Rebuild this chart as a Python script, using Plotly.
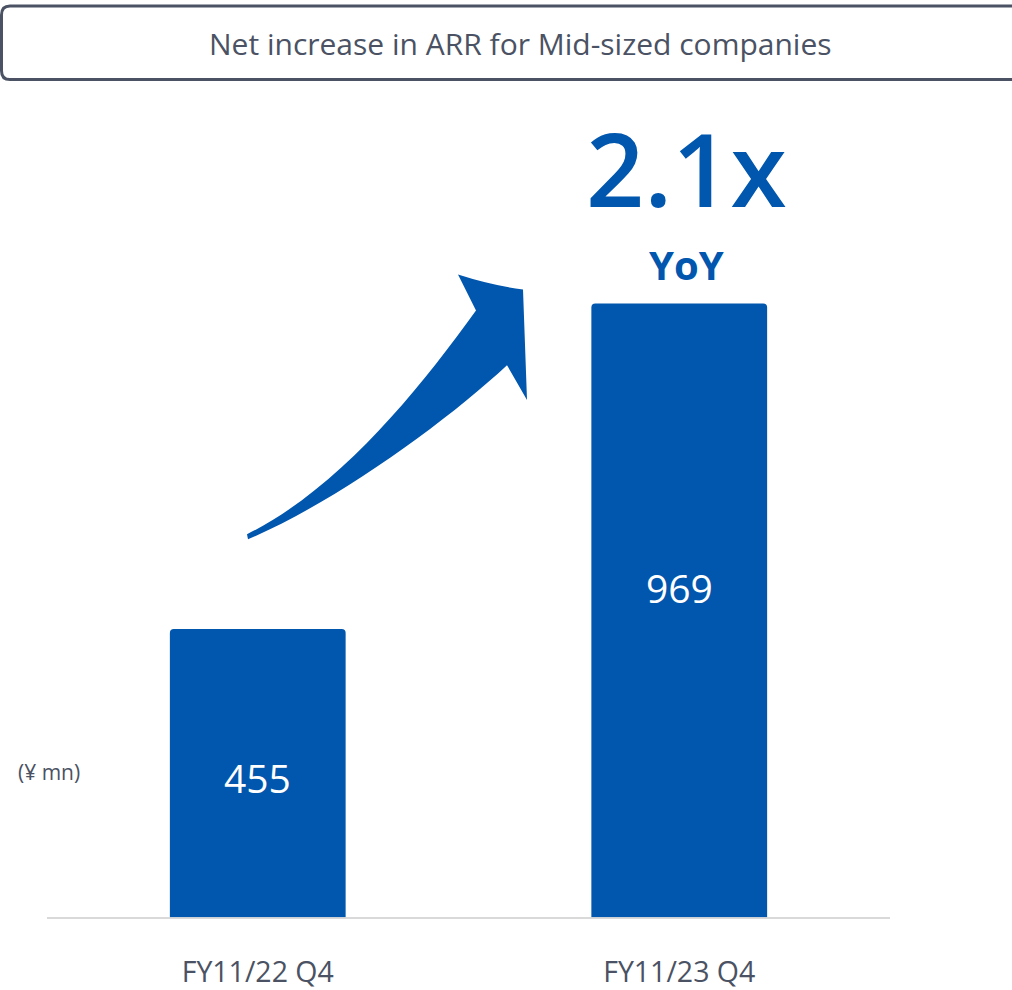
import plotly.graph_objects as go

# Figure canvas (pixels)
W, H = 1012, 990

# Data
categories = ["FY11/22 Q4", "FY11/23 Q4"]
net_increase = [455, 969]          # ¥ mn
label_heights = [220, 520]         # where the value labels sit inside each bar (¥ mn scale)
growth_label = "2.1x"
growth_sub = "YoY"
title_text = "Net increase in ARR for Mid-sized companies"
unit_text = "(¥ mn)"

BLUE = "#0156ae"
SLATE = "#4a5263"
FONT = "Open Sans"

# plot-area edges in pixels
PLOT_LEFT, PLOT_RIGHT = 47, 890
PLOT_TOP, PLOT_BOTTOM = 100, 922
Y_MAX = 969 * (PLOT_BOTTOM - PLOT_TOP) / (PLOT_BOTTOM - 305)


def px(x):
    return x / W


def py(y):
    return 1 - y / H


fig = go.Figure()
fig.add_trace(go.Bar(
    x=categories,
    y=net_increase,
    width=0.417,
    marker=dict(color=BLUE, line=dict(width=0)),
    hoverinfo="skip",
))

annotations = []
# values written inside the bars
for cat, val, yl in zip(categories, net_increase, label_heights):
    annotations.append(dict(
        x=cat, y=yl, xref="x", yref="y", text=str(val), showarrow=False,
        font=dict(family=FONT, size=39, color="white"),
        xanchor="center", yanchor="middle",
    ))

annotations += [
    dict(x=px(520), y=py(44), xref="paper", yref="paper", text=title_text,
         showarrow=False, xanchor="center", yanchor="middle",
         font=dict(family=FONT, size=30, color=SLATE)),
    dict(x=px(686), y=py(168), xref="paper", yref="paper", text=growth_label,
         showarrow=False, xanchor="center", yanchor="middle",
         font=dict(family=FONT, size=102, color=BLUE, weight=600)),
    dict(x=px(686), y=py(266), xref="paper", yref="paper", text=growth_sub,
         showarrow=False, xanchor="center", yanchor="middle",
         font=dict(family=FONT, size=40, color=BLUE, weight=700)),
    dict(x=px(49), y=py(776), xref="paper", yref="paper", text=unit_text,
         showarrow=False, xanchor="center", yanchor="middle",
         font=dict(family=FONT, size=21, color=SLATE)),
]

shapes = [
    # rounded frame around the heading (runs off the right edge)
    dict(type="path", xref="paper", yref="paper",
         path=(f"M {px(1040)},{py(6)} L {px(10)},{py(6)} "
               f"Q {px(1.5)},{py(6)} {px(1.5)},{py(15)} "
               f"L {px(1.5)},{py(71)} Q {px(1.5)},{py(80)} {px(10)},{py(80)} "
               f"L {px(1040)},{py(80)}"),
         line=dict(color=SLATE, width=3), fillcolor="rgba(0,0,0,0)"),
    # curved growth arrow
    dict(type="path", xref="paper", yref="paper",
         path=(f"M {px(247)},{py(537)} "
               f"C {px(337)},{py(492)} {px(416)},{py(396)} {px(476)},{py(312)} "
               f"L {px(458)},{py(276)} "
               f"Q {px(492)},{py(287)} {px(523)},{py(291)} "
               f"L {px(527)},{py(402)} L {px(507)},{py(367)} "
               f"C {px(447)},{py(423)} {px(337)},{py(504)} {px(248)},{py(542)} Z"),
         line=dict(width=0), fillcolor=BLUE),
]

fig.update_layout(
    width=W, height=H,
    margin=dict(l=0, r=0, t=0, b=0),
    paper_bgcolor="white", plot_bgcolor="white",
    showlegend=False,
    barcornerradius=4,
    annotations=annotations,
    shapes=shapes,
    xaxis=dict(
        domain=[px(PLOT_LEFT), px(PLOT_RIGHT)],
        range=[-0.5, 1.5],
        showgrid=False, zeroline=False,
        showline=True, linecolor="#d9d9d9", linewidth=2,
        layer="below traces",
        ticks="", ticklabelstandoff=28,
        tickfont=dict(family=FONT, size=28.5, color=SLATE),
        fixedrange=True,
    ),
    yaxis=dict(
        domain=[py(PLOT_BOTTOM), py(PLOT_TOP)],
        range=[0, Y_MAX],
        visible=False, showgrid=False, zeroline=False,
        fixedrange=True,
    ),
)

fig.write_html("out.html", config={"displayModeBar": False})
